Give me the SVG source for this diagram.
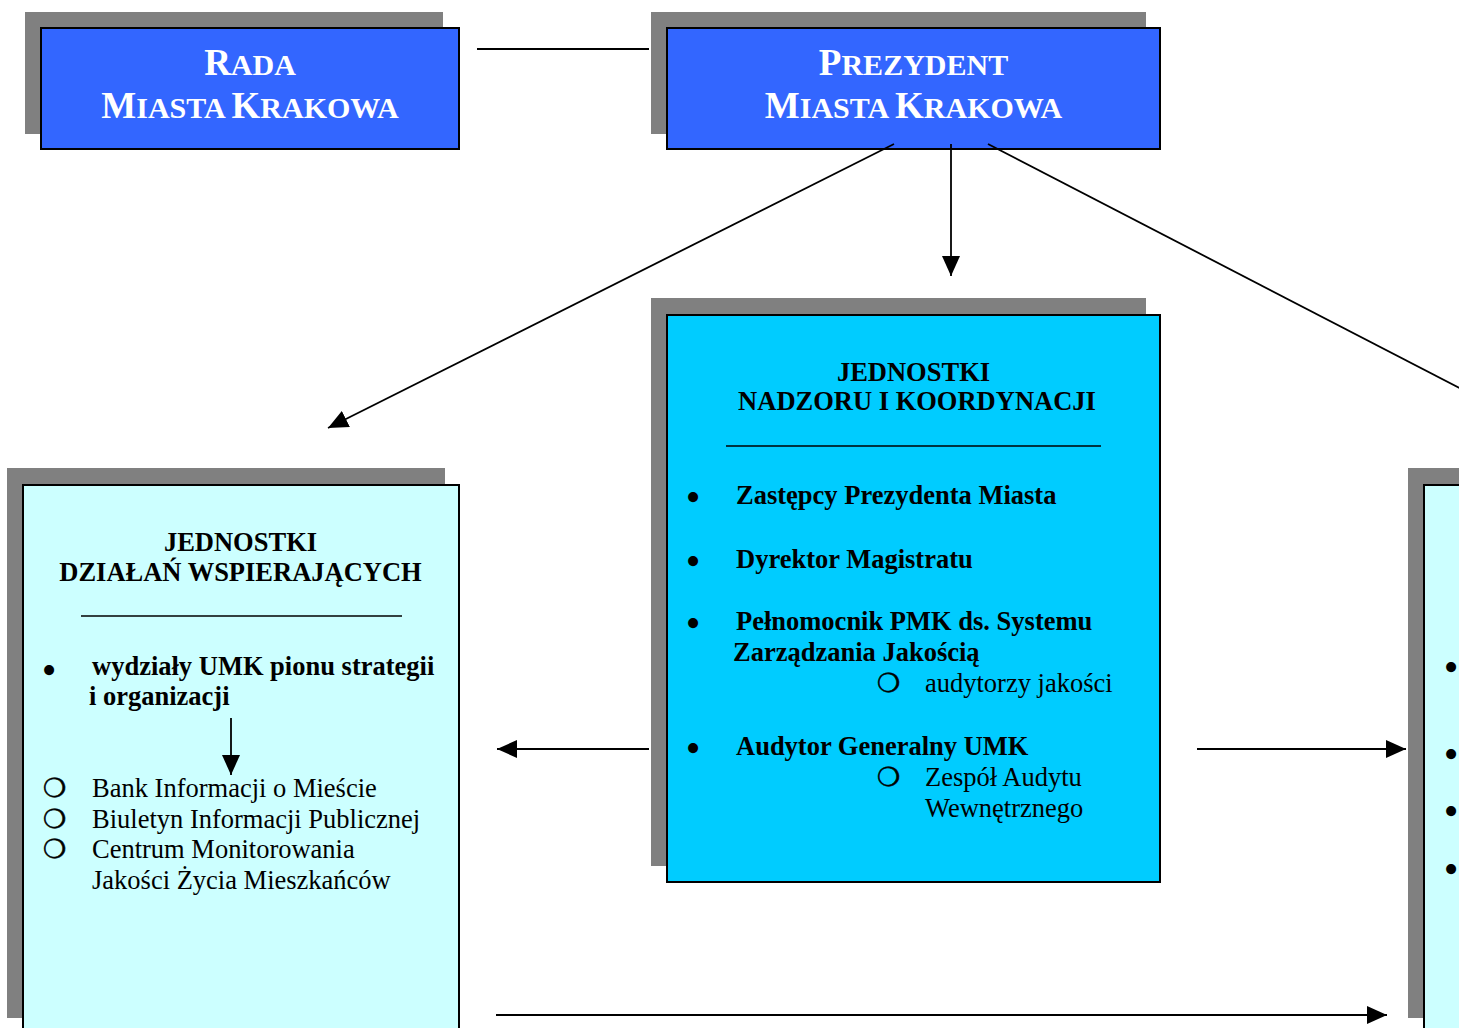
<svg xmlns="http://www.w3.org/2000/svg" width="1459" height="1028" viewBox="0 0 1459 1028">
<style>
.shadow{fill:#808080}
.box{stroke:#000;stroke-width:2}
.top{fill:#3366FF}
.mid{fill:#00CCFF}
.side{fill:#CCFFFF}
.title{font-family:"Liberation Serif",serif;font-weight:bold;fill:#fff;text-anchor:middle}
.h{font-family:"Liberation Serif",serif;font-weight:bold;font-size:26.5px;fill:#000;text-anchor:middle}
.b{font-family:"Liberation Serif",serif;font-weight:bold;font-size:26.5px;fill:#000}
.r{font-family:"Liberation Serif",serif;font-size:26.5px;fill:#000}
.o{font-family:"DejaVu Sans",sans-serif;font-size:26px;fill:#000;stroke:#000;stroke-width:0.6}
.bul{font-family:"Liberation Serif",serif;font-size:42px;fill:#000;text-anchor:middle}
.conn{stroke:#000;stroke-width:1.8;fill:none}
</style>
<defs>
<marker id="ah" markerUnits="userSpaceOnUse" markerWidth="20" markerHeight="18" refX="20" refY="9" orient="auto">
<path d="M0,0 L20,9 L0,18 z" fill="#000"/>
</marker>
</defs>
<rect width="1459" height="1028" fill="#fff"/>

<g id="rada">
<rect class="shadow" x="25" y="12" width="418" height="122"/>
<rect class="box top" x="41" y="28" width="418" height="121"/>
<text class="title" x="250" y="75"><tspan font-size="37">R</tspan><tspan font-size="30">ADA</tspan></text>
<text class="title" x="250" y="118"><tspan font-size="37">M</tspan><tspan font-size="30">IASTA </tspan><tspan font-size="37">K</tspan><tspan font-size="30">RAKOWA</tspan></text>
</g>

<g id="prezydent">
<rect class="shadow" x="651" y="12" width="495" height="122"/>
<rect class="box top" x="667" y="28" width="493" height="121"/>
<text class="title" x="913.5" y="75"><tspan font-size="37">P</tspan><tspan font-size="30">REZYDENT</tspan></text>
<text class="title" x="913.5" y="118"><tspan font-size="37">M</tspan><tspan font-size="30">IASTA </tspan><tspan font-size="37">K</tspan><tspan font-size="30">RAKOWA</tspan></text>
</g>

<g id="nadzor">
<rect class="shadow" x="651" y="298" width="495" height="568"/>
<rect class="box mid" x="667" y="315" width="493" height="567"/>
<text class="h" x="913.5" y="381">JEDNOSTKI</text>
<text class="h" x="917" y="410">NADZORU I KOORDYNACJI</text>
<line x1="726" y1="446" x2="1101" y2="446" stroke="#000" stroke-width="1.6"/>
<text class="bul" x="693" y="511">•</text>
<text class="b" x="736" y="504">Zastępcy Prezydenta Miasta</text>
<text class="bul" x="693" y="575">•</text>
<text class="b" x="736" y="568">Dyrektor Magistratu</text>
<text class="bul" x="693" y="637">•</text>
<text class="b" x="736" y="630">Pełnomocnik PMK ds. Systemu</text>
<text class="b" x="733" y="661">Zarządzania Jakością</text>
<text class="o" x="877" y="692">❍</text>
<text class="r" x="925" y="692">audytorzy jakości</text>
<text class="bul" x="693" y="762">•</text>
<text class="b" x="736" y="755">Audytor Generalny UMK</text>
<text class="o" x="877" y="786">❍</text>
<text class="r" x="925" y="786">Zespół Audytu</text>
<text class="r" x="925" y="817">Wewnętrznego</text>
</g>

<g id="wspierajace">
<rect class="shadow" x="7" y="468" width="438" height="550"/>
<rect class="box side" x="23" y="485" width="436" height="560"/>
<text class="h" x="240.5" y="551">JEDNOSTKI</text>
<text class="h" x="240.5" y="581">DZIAŁAŃ WSPIERAJĄCYCH</text>
<line x1="81" y1="616" x2="402" y2="616" stroke="#000" stroke-width="1.6"/>
<text class="bul" x="49" y="684">•</text>
<text class="b" x="92" y="675">wydziały UMK pionu strategii</text>
<text class="b" x="89" y="705">i organizacji</text>
<line class="conn" x1="231" y1="718" x2="231" y2="775" marker-end="url(#ah)"/>
<text class="o" x="43" y="797">❍</text>
<text class="r" x="92" y="797">Bank Informacji o Mieście</text>
<text class="o" x="43" y="828">❍</text>
<text class="r" x="92" y="828">Biuletyn Informacji Publicznej</text>
<text class="o" x="43" y="858">❍</text>
<text class="r" x="92" y="858">Centrum Monitorowania</text>
<text class="r" x="92" y="889">Jakości Życia Mieszkańców</text>
</g>

<g id="prawa">
<rect class="shadow" x="1408" y="468" width="438" height="550"/>
<rect class="box side" x="1424" y="485" width="436" height="560"/>
<text class="bul" x="1451" y="681">•</text>
<text class="bul" x="1451" y="768">•</text>
<text class="bul" x="1451" y="825">•</text>
<text class="bul" x="1451" y="883">•</text>
</g>

<g id="connectors">
<line class="conn" x1="477" y1="49" x2="649" y2="49"/>
<line class="conn" x1="894" y1="144" x2="328" y2="428" marker-end="url(#ah)"/>
<line class="conn" x1="951" y1="144" x2="951" y2="276" marker-end="url(#ah)"/>
<line class="conn" x1="988" y1="144" x2="1475" y2="396"/>
<line class="conn" x1="649" y1="749" x2="497" y2="749" marker-end="url(#ah)"/>
<line class="conn" x1="1197" y1="749" x2="1406" y2="749" marker-end="url(#ah)"/>
<line class="conn" x1="496" y1="1015" x2="1387" y2="1015" marker-end="url(#ah)"/>
</g>
</svg>
